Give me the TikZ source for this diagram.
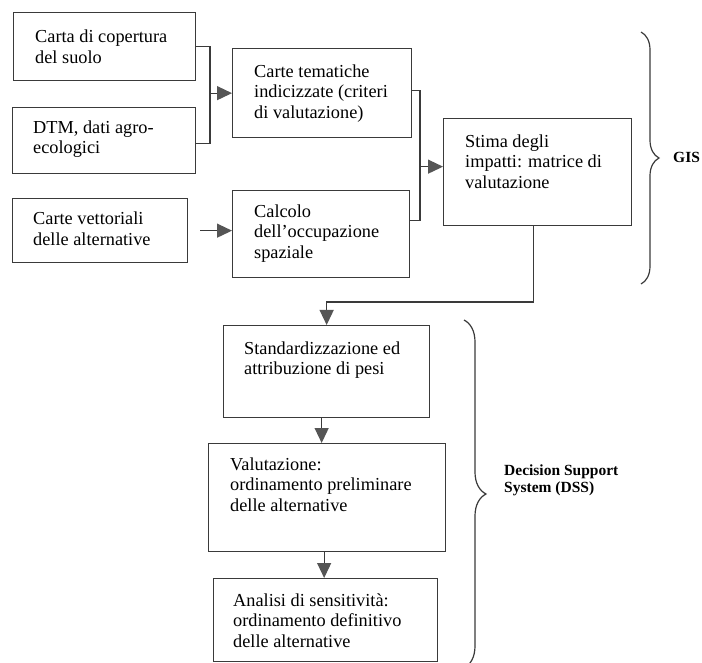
\documentclass[tikz,border=0pt]{standalone}
\usepackage{fontspec}
\setmainfont{Liberation Serif}
\usetikzlibrary{arrows.meta,decorations.pathreplacing}
\definecolor{linec}{HTML}{3A3A3A}
\definecolor{arrc}{HTML}{555555}
\begin{document}
\begin{tikzpicture}[x=1pt,y=-1pt,
  box/.style={draw=linec,line width=1.3pt,inner sep=0pt,anchor=north west},
  txt/.style={inner sep=0pt,anchor=north west,align=left,font=\fontsize{18.3}{20.5}\selectfont},
  conn/.style={draw=linec,line width=1.2pt},
  arr/.style={conn,-{Triangle[length=15pt,width=14pt,fill=arrc,color=arrc]}},
  lab/.style={inner sep=0pt,anchor=base west,align=left,font=\bfseries\fontsize{15.5}{17}\selectfont},
  brc/.style={draw=linec,line width=1.2pt,decorate}]
\useasboundingbox (0,0) rectangle (702,663);
% boxes
\node[box,minimum width=182pt,minimum height=68pt] (b1) at (13,12) {};
\node[box,minimum width=183pt,minimum height=66pt] (b2) at (12,107) {};
\node[box,minimum width=175pt,minimum height=64pt] (b3) at (12,198) {};
\node[box,minimum width=179pt,minimum height=89pt] (b4) at (232,48) {};
\node[box,minimum width=177pt,minimum height=87pt] (b5) at (232,190) {};
\node[box,minimum width=188pt,minimum height=107pt] (b6) at (443,118) {};
\node[box,minimum width=206pt,minimum height=92pt] (b7) at (223,325) {};
\node[box,minimum width=237pt,minimum height=108pt] (b8) at (208,443) {};
\node[box,minimum width=224pt,minimum height=83pt] (b9) at (213,578) {};
% texts
\node[txt] (t1) at (35,30) {Carta di copertura\\del suolo};
\node[txt] (t2) at (33,120.5) {DTM, dati agro-\\ecologici};
\node[txt] (t3) at (33,212) {Carte vettoriali\\delle alternative};
\node[txt] (t4) at (254,64.5) {Carte tematiche\\indicizzate (criteri\\di valutazione)};
\node[txt] (t5) at (254,204.5) {Calcolo\\dell’occupazione\\spaziale};
\node[txt] (t6) at (465,134.5) {Stima degli\\impatti: matrice di\\valutazione};
\node[txt] (t7) at (244,341.5) {Standardizzazione ed\\attribuzione di pesi};
\node[txt] (t8) at (230,457.5) {Valutazione:\\ordinamento preliminare\\delle alternative};
\node[txt] (t9) at (233,593.5) {Analisi di sensitività:\\ordinamento definitivo\\delle alternative};
% junction coordinates
\coordinate (j1) at (210,0);
\coordinate (j2) at (420,0);
\coordinate (j3) at (0,302);
% connectors
\draw[conn] (b1.east) -- (b1.east -| j1) -- ([yshift=-3pt]b2.east -| j1) -- ([yshift=-3pt]b2.east);
\draw[arr] (b4.west -| j1) -- (b4.west);
\draw[arr] ([xshift=12pt]b3.east) -- (b3.east -| b5.west);
\draw[conn] ([yshift=2.5pt]b4.east) -- ([yshift=2.5pt]b4.east -| j2) -- ([yshift=13.5pt]b5.east -| j2) -- ([yshift=13.5pt]b5.east);
\draw[arr] ([yshift=5.5pt]b6.west -| j2) -- ([yshift=5.5pt]b6.west);
\draw[arr] ([xshift=-4pt]b6.south) -- ([xshift=-4pt]b6.south |- j3) -| (b7.north);
\draw[arr] ([xshift=-5pt]b7.south) -- ([xshift=-5pt]b7.south |- b8.north);
\draw[arr] ([xshift=-3pt]b8.south) -- ([xshift=-3pt]b8.south |- b9.north);
% braces
\draw[brc,decoration={brace,amplitude=18pt,aspect=0.5}] (641,32) -- (641,284);
\draw[brc,decoration={brace,amplitude=22pt,aspect=0.5}] (464,320) -- (464,668);
\node[lab] (gis) at (673,163) {GIS};
\node[lab] (dss) at (504,492) {Decision Support\\System (DSS)};
\end{tikzpicture}
\end{document}
